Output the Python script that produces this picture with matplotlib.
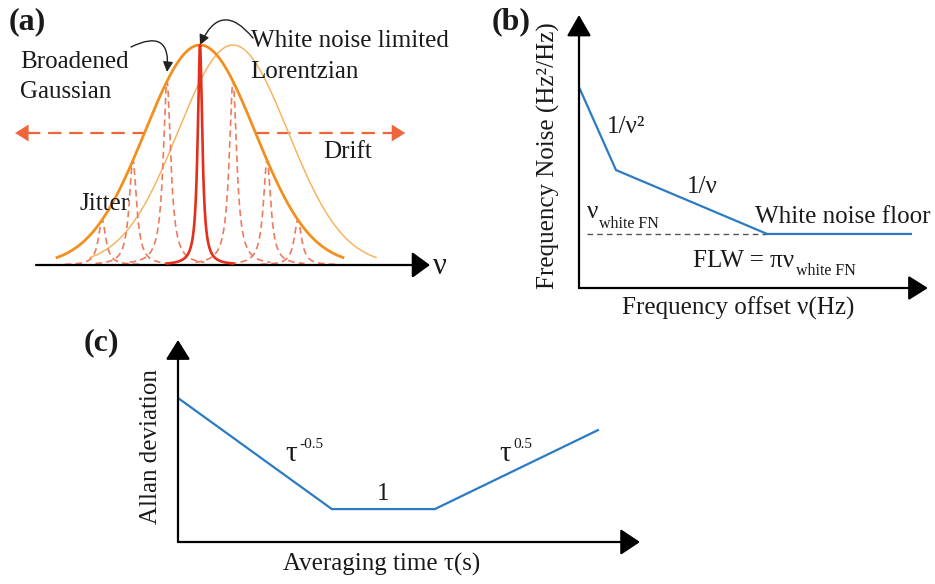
import numpy as np
import matplotlib
matplotlib.use("Agg")
import matplotlib.pyplot as plt

plt.rcParams['font.family'] = ['Liberation Serif', 'DejaVu Serif']

W, H = 935, 584
fig = plt.figure(figsize=(W / 100, H / 100), dpi=100)

# ---------------- data ----------------
# panel (a): normalized frequency units (sigma of Gaussian = 1)
gauss_center = 0.0
gauss_sigma = 1.0
drift_center = 0.6
jitter_centers = [-1.78, -1.22, -0.6, 0.6, 1.22, 1.78]
jitter_gamma = 0.082
lorentz_gamma = 0.05
drift_level = 0.6

# panel (b): frequency-noise schematic
fn_x = [0.0, 1.06, 5.39, 9.51]
fn_y = [7.36, 4.32, 1.98, 1.98]
white_floor_x = [0.23, 5.39]

# panel (c): Allan deviation schematic
ad_x = [0.0, 3.33, 5.56, 9.09]
ad_y = [7.13, 1.63, 1.63, 5.54]

TXT = '#1a1a1a'
BLUE = '#2b7bc4'


def px_axes(x0, y0, x1, y1):
    return fig.add_axes([x0 / W, 1 - y1 / H, (x1 - x0) / W, (y1 - y0) / H])


def ftext(x, y, s, **kw):
    kw.setdefault('fontsize', 18)
    kw.setdefault('color', TXT)
    kw.setdefault('va', 'baseline')
    fig.text(x / W, 1 - y / H, s, **kw)


def axis_arrow(ax, start, end, lw=1.6, hl=12, hw=7, color='black', coords='axes fraction'):
    ax.annotate('', xy=end, xytext=start, xycoords=coords, textcoords=coords,
                annotation_clip=False,
                arrowprops=dict(arrowstyle='-|>,head_length=%g,head_width=%g' % (hl, hw),
                                lw=lw, color=color, shrinkA=0, shrinkB=0,
                                mutation_scale=1))


# ---------------- panel (a) ----------------
axa = px_axes(0, 0, 470, 290)
axa.set_xlim(-200 / 55, 270 / 55)
axa.set_ylim(-25 / 220, 265 / 220)
axa.axis('off')


def gauss(x, c):
    return np.exp(-(x - c) ** 2 / (2 * gauss_sigma ** 2))


def lor(x, c, g):
    return 1 / (1 + ((x - c) / g) ** 2)


xg = np.linspace(-2.6, 2.6, 400)
axa.plot(xg + drift_center, gauss(xg + drift_center, drift_center), color='#f7b560', lw=1.1, zorder=2)

# jitter Lorentzians (dashed)
for c in jitter_centers:
    xl = np.linspace(c - 0.68, c + 0.68, 300)
    amp = gauss(c, gauss_center)
    axa.plot(xl, amp * lor(xl, c, jitter_gamma), color='#f07a5c', lw=1.2,
             ls=(0, (4, 2.5)), zorder=3)

axa.plot(xg, gauss(xg, gauss_center), color='#f2901f', lw=2.0, zorder=4)

xr = np.linspace(-0.6, 0.6, 600)
axa.plot(xr, lor(xr, gauss_center, lorentz_gamma), color='#e2301c', lw=1.9, zorder=5)

# drift dashed arrow outside the Gaussian
xc = gauss_sigma * np.sqrt(2 * np.log(1 / drift_level))
left_tip, right_tip = -3.36, 3.73
hl_units = 12 / 55
axa.plot([left_tip + hl_units, gauss_center - xc], [drift_level] * 2, color='#f0643a',
         lw=1.6, ls=(0, (6, 3.5)), zorder=1)
axa.plot([gauss_center + xc, right_tip - hl_units], [drift_level] * 2, color='#f0643a',
         lw=1.6, ls=(0, (6, 3.5)), zorder=1)
axis_arrow(axa, (left_tip + hl_units, drift_level), (left_tip, drift_level), lw=0.1,
           hl=9.5, hw=6, color='#f0643a', coords='data')
axis_arrow(axa, (right_tip - hl_units, drift_level), (right_tip, drift_level), lw=0.1,
           hl=9.5, hw=6, color='#f0643a', coords='data')

# frequency axis
axis_arrow(axa, (-164 / 55, 0), (230 / 55, 0), lw=1.6, hl=11, hw=8, coords='data')

# curved pointer arrows
axa.annotate('', xy=(167, H - 72), xytext=(131, H - 47), xycoords='figure pixels',
             textcoords='figure pixels', annotation_clip=False,
             arrowprops=dict(arrowstyle='-|>,head_length=6,head_width=3', lw=1.0,
                             color='#222222', shrinkA=0, shrinkB=0, mutation_scale=1,
                             connectionstyle='arc3,rad=-0.9'))
axa.annotate('', xy=(200, H - 45), xytext=(253, H - 38), xycoords='figure pixels',
             textcoords='figure pixels', annotation_clip=False,
             arrowprops=dict(arrowstyle='-|>,head_length=6,head_width=3', lw=1.0,
                             color='#222222', shrinkA=0, shrinkB=0, mutation_scale=1,
                             connectionstyle='arc3,rad=0.8'))

ftext(9, 29, '(a)', fontsize=23, fontweight='bold')
ftext(20, 68, 'Broadened')
ftext(20, 98, 'Gaussian')
ftext(251, 47, 'White noise limited')
ftext(250, 78, 'Lorentzian')
ftext(323, 158, 'Drift')
ftext(80, 210, 'Jitter')
ftext(433, 274, 'ν', fontsize=22)

# ---------------- panel (b) ----------------
axb = px_axes(579, 15, 928, 288)
axb.set_xlim(0, 10)
axb.set_ylim(0, 10)
axb.axis('off')
axb.plot(white_floor_x, [fn_y[-1]] * 2, color='#555555', lw=1.0, ls=(0, (4, 3)))
axb.plot(fn_x, fn_y, color=BLUE, lw=1.6, solid_joinstyle='miter')
axis_arrow(axb, (0, 0), (0, 1), lw=1.6, hl=13, hw=7.5)
axis_arrow(axb, (0, 0), (1, 0), lw=1.6, hl=12, hw=7.5)

ftext(492, 29, '(b)', fontsize=23, fontweight='bold')
fig.text(548 / W, 1 - 156 / H, 'Frequency Noise (Hz²/Hz)', rotation=90, ha='center',
         va='center', fontsize=18, color=TXT)
ftext(607, 133, '1/ν²')
ftext(687, 193, '1/ν')
ftext(587, 218, 'ν')
ftext(599, 228, 'white FN', fontsize=11.5)
ftext(755, 223, 'White noise floor')
ftext(693, 267, 'FLW = πν')
ftext(796, 275, 'white FN', fontsize=11.5)
ftext(738, 315, 'Frequency offset ν(Hz)', ha='center')

# ---------------- panel (c) ----------------
axc = px_axes(178, 340, 640, 542)
axc.set_xlim(0, 10)
axc.set_ylim(0, 10)
axc.axis('off')
axc.plot(ad_x, ad_y, color=BLUE, lw=1.6, solid_joinstyle='miter')
axis_arrow(axc, (0, 0), (0, 1), lw=1.6, hl=12, hw=7.5)
axis_arrow(axc, (0, 0), (1, 0), lw=1.6, hl=12, hw=8)

ftext(84, 350, '(c)', fontsize=23, fontweight='bold')
fig.text(151 / W, 1 - 447 / H, 'Allan deviation', rotation=90, ha='center',
         va='center', fontsize=18, color=TXT)
ftext(285, 461, 'τ', fontsize=21)
ftext(299, 448, '-0.5', fontsize=11)
ftext(377, 500, '1')
ftext(499, 461, 'τ', fontsize=21)
ftext(513, 448, '0.5', fontsize=11)
ftext(382, 571, 'Averaging time τ(s)', ha='center')

fig.savefig('out.png', dpi=100, facecolor='white')
